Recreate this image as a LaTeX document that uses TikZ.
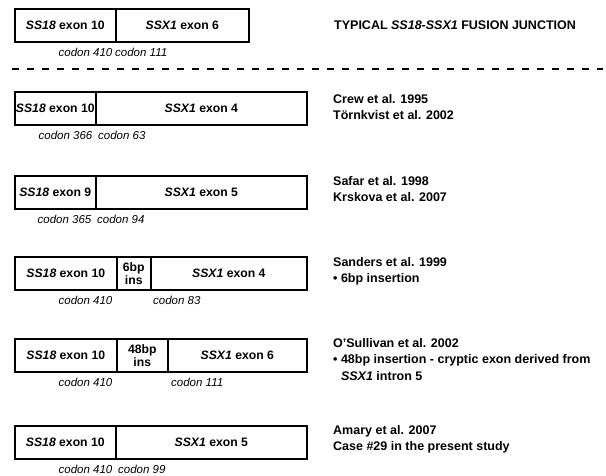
\documentclass[tikz,border=0pt]{standalone}
\usepackage{fontspec}
\setmainfont{Liberation Sans}
\begin{document}
\begin{tikzpicture}[x=1pt,y=-1pt,
  seg/.style={draw, line width=1.6pt, minimum height=33pt, inner sep=0pt, anchor=north west, align=center, font=\bfseries\fontsize{12.2}{13}\selectfont},
  codon/.style={inner sep=0pt, font=\itshape\fontsize{11.5}{13}\selectfont},
  reftext/.style={inner sep=0pt, anchor=north west, align=left, font=\bfseries\fontsize{12.5}{16.5}\selectfont}]
  \useasboundingbox (0,0) rectangle (606,475);
  \node[seg, minimum width=101pt] (a1) at (14,8) {\textit{SS18} exon 10};
  \node[seg, minimum width=133pt] (a2) at (115,8) {\textit{SSX1} exon 6};
  \node[codon, anchor=north east] (ac1) at ([xshift=-4pt,yshift=-5pt]a1.south east) {codon 410};
  \node[codon, anchor=north west] (ac2) at ([xshift=0pt,yshift=-5pt]a2.south west) {codon 111};
  \node[reftext, anchor=west] (ah) at (334,25) {TYPICAL \textit{SS18-SSX1} FUSION JUNCTION};
  \draw[line width=1.5pt, dash pattern=on 7pt off 8pt] (12,69) -- (603,69);
  \node[seg, minimum width=81pt] (b1) at (14,91) {\textit{SS18} exon 10};
  \node[seg, minimum width=211pt] (b2) at (95,91) {\textit{SSX1} exon 4};
  \node[codon, anchor=north east] (bc1) at ([xshift=-4pt,yshift=-5pt]b1.south east) {codon 366};
  \node[codon, anchor=north west] (bc2) at ([xshift=3pt,yshift=-5pt]b2.south west) {codon 63};
  \node[reftext] (bt) at (333,94) {Crew et al. 1995\\Törnkvist et al. 2002};
  \node[seg, minimum width=81pt] (c1) at (14,175) {\textit{SS18} exon 9};
  \node[seg, minimum width=211pt] (c2) at (95,175) {\textit{SSX1} exon 5};
  \node[codon, anchor=north east] (cc1) at ([xshift=-5pt,yshift=-5pt]c1.south east) {codon 365};
  \node[codon, anchor=north west] (cc2) at ([xshift=2pt,yshift=-5pt]c2.south west) {codon 94};
  \node[reftext] (ct) at (333,176) {Safar et al. 1998\\Krskova et al. 2007};
  \node[seg, minimum width=102pt] (d1) at (14,256) {\textit{SS18} exon 10};
  \node[seg, minimum width=34pt] (d2) at (116,256) {6bp\\ins};
  \node[seg, minimum width=156pt] (d3) at (150,256) {\textit{SSX1} exon 4};
  \node[codon, anchor=north east] (dc1) at ([xshift=-5pt,yshift=-5pt]d1.south east) {codon 410};
  \node[codon, anchor=north west] (dc2) at ([xshift=3pt,yshift=-5pt]d3.south west) {codon 83};
  \node[reftext] (dt) at (333,257) {Sanders et al. 1999\\• 6bp insertion};
  \node[seg, minimum width=102pt] (e1) at (14,338) {\textit{SS18} exon 10};
  \node[seg, minimum width=51pt] (e2) at (116,338) {48bp\\ins};
  \node[seg, minimum width=139pt] (e3) at (167,338) {\textit{SSX1} exon 6};
  \node[codon, anchor=north east] (ec1) at ([xshift=-5pt,yshift=-5pt]e1.south east) {codon 410};
  \node[codon, anchor=north west] (ec2) at ([xshift=4pt,yshift=-5pt]e3.south west) {codon 111};
  \node[reftext] (et) at (333,338) {O’Sullivan et al. 2002\\• 48bp insertion - cryptic exon derived from\\\phantom{• }\textit{SSX1} intron 5};
  \node[seg, minimum width=101pt] (f1) at (14,425) {\textit{SS18} exon 10};
  \node[seg, minimum width=191pt] (f2) at (115,425) {\textit{SSX1} exon 5};
  \node[codon, anchor=north east] (fc1) at ([xshift=-4pt,yshift=-5pt]f1.south east) {codon 410};
  \node[codon, anchor=north west] (fc2) at ([xshift=3pt,yshift=-5pt]f2.south west) {codon 99};
  \node[reftext] (ft) at (333,425) {Amary et al. 2007\\Case \#29 in the present study};
\end{tikzpicture}
\end{document}
